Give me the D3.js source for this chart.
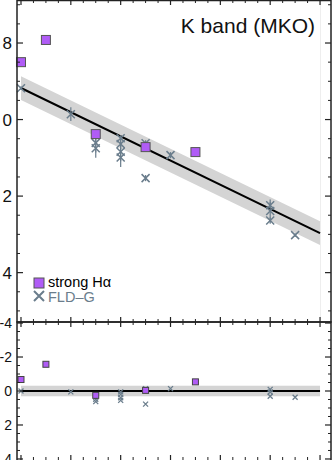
<!DOCTYPE html>
<html>
<head>
<meta charset="utf-8">
<script src="https://cdn.jsdelivr.net/npm/d3@7"></script>
<style>
  body { margin: 0; background: #fff; }
  svg { display: block; font-family: "Liberation Sans", Arial, sans-serif; }
</style>
</head>
<body>
<svg id="chart" width="332" height="460"></svg>
<script>
// strong H-alpha objects (x = type index, mag)
var haX = [0, 1, 3, 5, 7];
var haMag = [8.50, 7.92, 10.38, 10.72, 10.85];
var haErr = [0.05, 0.1, 0.05, 0.05, 0.05];

// FLD-G objects
var fldX = [0, 2, 3, 3, 4, 4, 4, 4, 5, 5, 6, 10, 10, 10, 11];
var fldMag = [9.18, 9.86, 10.61, 10.75, 10.49, 10.64, 10.84, 10.99, 10.62, 11.53, 10.93, 12.24, 12.39, 12.64, 13.02];
var fldErr = [0.05, 0.18, 0.25, 0.25, 0.08, 0.08, 0.25, 0.25, 0.08, 0.08, 0.08, 0.08, 0.3, 0.08, 0.05];

// linear fit and its rms band
var fitRange = [0, 12];
var fitIntercept = 9.176;
var fitSlope = 0.316;
var fitRms = 0.31;

var topTicks = [8, 10, 12, 14];
var topTickLabels = ["8", "0", "2", "4"];
var botTicks = [-4, -2, 0, 2, 4];
var botTickLabels = ["-4", "-2", "0", "2", "4"];

var title = "K band (MKO)";
var legendLabels = ["strong H\u03b1", "FLD\u2013G"];

var purple = "#b05cf6";
var grey = "#6a7d8c";

var svg = d3.select('#chart');
var left = 17, right = 331;

var x = d3.scaleLinear().domain([-0.16, 12.44]).range([left, right]);
var yTop = d3.scaleLinear().domain([6.876, 15.29]).range([0, 322]);
var yBot = d3.scaleLinear().domain([-4.06, 4.06]).range([322, 460]);

function fit(v) { return fitIntercept + fitSlope * v; }

// faint edge line seen in the original
svg.append('line').attr('x1', 320.5).attr('x2', 320.5).attr('y1', 0).attr('y2', 322)
  .attr('stroke', '#eeeeee').attr('stroke-width', 1);

// ---------- top panel ----------
var bandPts = fitRange;
var area = d3.area()
  .x(function (d) { return x(d); })
  .y0(function (d) { return yTop(fit(d) - fitRms); })
  .y1(function (d) { return yTop(fit(d) + fitRms); });
svg.append('path').datum(bandPts).attr('d', area).attr('fill', '#d4d4d4');

var line = d3.line().x(function (d) { return x(d); }).y(function (d) { return yTop(fit(d)); });
svg.append('path').datum(bandPts).attr('d', line).attr('stroke', '#000').attr('stroke-width', 2).attr('fill', 'none');

function drawCross(g, cx, cy, r, w) {
  g.append('path')
    .attr('d', 'M' + (cx - r) + ',' + (cy - r) + 'L' + (cx + r) + ',' + (cy + r) +
               'M' + (cx - r) + ',' + (cy + r) + 'L' + (cx + r) + ',' + (cy - r))
    .attr('stroke', grey).attr('stroke-width', w).attr('fill', 'none');
}

var gTop = svg.append('g');
fldX.forEach(function (d, i) {
  var cx = x(d), cy = yTop(fldMag[i]);
  gTop.append('line').attr('x1', cx).attr('x2', cx)
    .attr('y1', yTop(fldMag[i] - fldErr[i])).attr('y2', yTop(fldMag[i] + fldErr[i]))
    .attr('stroke', grey).attr('stroke-width', 1.2);
  drawCross(gTop, cx, cy, 4, 1.5);
});
haX.forEach(function (d, i) {
  var cx = x(d), cy = yTop(haMag[i]);
  gTop.append('line').attr('x1', cx).attr('x2', cx)
    .attr('y1', yTop(haMag[i] - haErr[i])).attr('y2', yTop(haMag[i] + haErr[i]))
    .attr('stroke', purple).attr('stroke-width', 1.2);
  gTop.append('rect').attr('x', cx - 4.5).attr('y', cy - 4.5).attr('width', 9).attr('height', 9)
    .attr('fill', purple).attr('stroke', '#555').attr('stroke-width', 1);
});

svg.append('text').attr('x', 315).attr('y', 33).attr('text-anchor', 'end')
  .attr('font-size', 21).attr('fill', '#111').text(title);

// legend
svg.append('rect').attr('x', 34).attr('y', 278).attr('width', 10).attr('height', 10)
  .attr('fill', purple).attr('stroke', '#555').attr('stroke-width', 1);
svg.append('text').attr('x', 48).attr('y', 287).attr('font-size', 14.5).attr('fill', '#000').text(legendLabels[0]);
drawCross(svg, 39, 296, 5, 2);
svg.append('text').attr('x', 48).attr('y', 301.5).attr('font-size', 14.5).attr('fill', grey).text(legendLabels[1]);

// ---------- bottom panel ----------
svg.append('rect').attr('x', x(fitRange[0])).attr('y', yBot(-fitRms))
  .attr('width', x(fitRange[1]) - x(fitRange[0])).attr('height', yBot(fitRms) - yBot(-fitRms))
  .attr('fill', '#d4d4d4');
svg.append('line').attr('x1', x(fitRange[0])).attr('x2', x(fitRange[1]))
  .attr('y1', yBot(0)).attr('y2', yBot(0)).attr('stroke', '#000').attr('stroke-width', 2);

var gBot = svg.append('g');
fldX.forEach(function (d, i) {
  drawCross(gBot, x(d), yBot(fldMag[i] - fit(d)), 2.5, 1.3);
});
haX.forEach(function (d, i) {
  var cy = yBot(haMag[i] - fit(d));
  gBot.append('rect').attr('x', x(d) - 3).attr('y', cy - 3).attr('width', 6).attr('height', 6)
    .attr('fill', purple).attr('stroke', '#444').attr('stroke-width', 1);
});

// ---------- axes / frames ----------
var axisColor = '#222';
function frame(y0, y1) {
  svg.append('rect').attr('x', left).attr('y', y0).attr('width', right - left).attr('height', y1 - y0)
    .attr('fill', 'none').attr('stroke', axisColor).attr('stroke-width', 1.5);
}
frame(0.5, 322);
frame(322, 461);

var xMajor = d3.range(0, 12.01, 2);
var xMinor = d3.range(0, 12.01, 0.5).filter(function (v) { return v % 2 !== 0; });

function xTicks(yEdge, dir) {
  xMajor.forEach(function (v) {
    svg.append('line').attr('x1', x(v)).attr('x2', x(v)).attr('y1', yEdge).attr('y2', yEdge + dir * 5)
      .attr('stroke', axisColor).attr('stroke-width', 1.2);
  });
  xMinor.forEach(function (v) {
    svg.append('line').attr('x1', x(v)).attr('x2', x(v)).attr('y1', yEdge).attr('y2', yEdge + dir * 3)
      .attr('stroke', axisColor).attr('stroke-width', 1);
  });
}
xTicks(0, 1);
xTicks(322, 1);
xTicks(322, -1);
xTicks(460, -1);

function yTicks(scale, majors, step, lo, hi) {
  d3.range(lo, hi + 0.001, step).forEach(function (v) {
    var isMajor = majors.indexOf(v) >= 0;
    var len = isMajor ? 6 : 3;
    var py = scale(v);
    svg.append('line').attr('x1', left).attr('x2', left + len).attr('y1', py).attr('y2', py)
      .attr('stroke', axisColor).attr('stroke-width', isMajor ? 1.2 : 1);
    svg.append('line').attr('x1', right).attr('x2', right - len).attr('y1', py).attr('y2', py)
      .attr('stroke', axisColor).attr('stroke-width', isMajor ? 1.2 : 1);
  });
}
yTicks(yTop, topTicks, 0.5, 7, 15);
yTicks(yBot, botTicks, 0.5, -4, 4);

topTicks.forEach(function (v, i) {
  svg.append('text').attr('x', 12).attr('y', yTop(v)).attr('dy', '0.36em')
    .attr('text-anchor', 'end').attr('font-size', 17).attr('fill', '#111').text(topTickLabels[i]);
});
botTicks.forEach(function (v, i) {
  svg.append('text').attr('x', 12).attr('y', yBot(v)).attr('dy', '0.36em')
    .attr('text-anchor', 'end').attr('font-size', 14).attr('fill', '#111').text(botTickLabels[i]);
});
</script>
</body>
</html>
